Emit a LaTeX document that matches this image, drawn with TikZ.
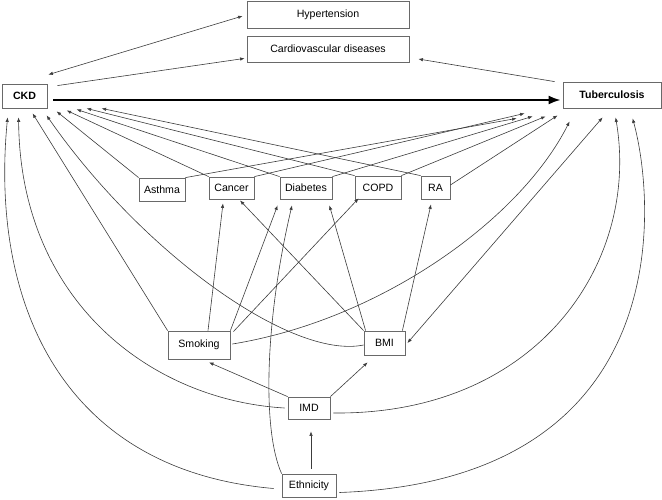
\documentclass[tikz,border=0pt]{standalone}
\usepackage{fontspec}
\setmainfont{Liberation Sans}
\usepackage{tikz}
\usetikzlibrary{arrows.meta,calc}
\definecolor{edgegrey}{RGB}{60,60,60}
\definecolor{boxgrey}{RGB}{105,105,105}
\tikzset{
  base/.style={font=\fontsize{10.6}{12}\selectfont, align=center, inner sep=0pt, text=black},
  box/.style={base, rectangle, draw=boxgrey, fill=white, line width=0.8pt},
  keybox/.style={box, font=\fontsize{10.6}{12}\selectfont\bfseries},
  arr/.style={-{Latex[length=4.5pt,width=3.5pt]}, line width=0.6pt, draw=edgegrey},
  arr2/.style={arr, {Latex[length=4.5pt,width=3.5pt]}-{Latex[length=4.5pt,width=3.5pt]}},
  arrthick/.style={-{Latex[length=12pt,width=9pt]}, line width=2pt, draw=black},
}
\begin{document}
\begin{tikzpicture}[x=1pt,y=-1pt]
  \useasboundingbox (0,0) rectangle (662,499);
  % outcomes and comorbidities
  \node[box,minimum width=162pt,minimum height=27pt] (hyp) at (328,14.5) {Hypertension};
  \node[box,minimum width=162pt,minimum height=26pt] (cvd) at (328,49) {Cardiovascular diseases};
  \node[keybox,minimum width=45pt,minimum height=24pt] (ckd) at (24.5,96) {CKD};
  \node[keybox,minimum width=98pt,minimum height=26pt] (tb) at (612,95) {Tuberculosis};
  \node[box,minimum width=46pt,minimum height=23pt] (asthma) at (162,189.5) {Asthma};
  \node[box,minimum width=45pt,minimum height=22pt] (cancer) at (231.5,188) {Cancer};
  \node[box,minimum width=52pt,minimum height=22pt] (diab) at (306,188) {Diabetes};
  \node[box,minimum width=46pt,minimum height=23pt] (copd) at (378,187.5) {COPD};
  \node[box,minimum width=29pt,minimum height=23pt] (ra) at (435.5,187.5) {RA};
  % risk factors
  \node[box,minimum width=62pt,minimum height=28pt] (smok) at (199,345) {Smoking};
  \node[box,minimum width=41pt,minimum height=24pt] (bmi) at (384.5,343) {BMI};
  \node[box,minimum width=42pt,minimum height=22pt] (imd) at (309,408) {IMD};
  \node[box,minimum width=54pt,minimum height=23pt] (eth) at (309,485.5) {Ethnicity};

  % top links
  \draw[arr2] ($(hyp.west)+(-4,1.5)$) -- ($(ckd.north east)+(1,-9)$);
  \draw[arr] ($(ckd.north east)+(10,2)$) -- ($(cvd.south west)+(-2,-4)$);
  \draw[arr] ($(tb.north west)+(-8,0)$) -- ($(cvd.east)+(9,10)$);
  \draw[arrthick] ($(ckd.east)+(6,4)$) -- ($(tb.west)+(-2,5)$);

  % comorbidities to CKD and TB
  \draw[arr] (asthma.north west) -- ($(ckd.south west)+(55,3)$);
  \draw[arr] (cancer.north west) -- ($(ckd.south west)+(65,2)$);
  \draw[arr] (diab.north west) -- ($(ckd.south west)+(75,1)$);
  \draw[arr] (copd.north west) -- ($(ckd.south west)+(85,0)$);
  \draw[arr] (ra.north west) -- ($(ckd.south west)+(100,0)$);
  \draw[arr] (asthma.north east) -- ($(tb.south west)+(-46,10)$);
  \draw[arr] (cancer.north east) -- ($(tb.south west)+(-38,5)$);
  \draw[arr] (diab.north east) -- ($(tb.south west)+(-30,8)$);
  \draw[arr] (copd.north east) -- ($(tb.south west)+(-17,8)$);
  \draw[arr] ($(ra.east)+(0,-2.5)$) -- ($(tb.south west)+(-5,7)$);

  % smoking
  \draw[arr] (smok.north west) -- ($(ckd.south west)+(31,5)$);
  \draw[arr] ($(smok.north)+(9,0)$) -- ($(cancer.south)+(-8.5,4)$);
  \draw[arr] (smok.north east) -- ($(diab.south west)+(-2,6)$);
  \draw[arr] ($(smok.north east)+(3,1)$) -- ($(copd.south west)+(4,-1)$);
  \draw[arr] ($(smok.east)+(2,-1)$) .. controls (380,320) and (520,220) .. ($(tb.south west)+(7,13)$);

  % BMI
  \draw[arr] (bmi.north west) -- ($(cancer.south)+(8.5,1)$);
  \draw[arr] ($(bmi.north west)+(2,0)$) -- ($(diab.south east)+(-3,6)$);
  \draw[arr] ($(bmi.north east)+(-3,0)$) -- ($(ra.south)+(-4.5,5)$);
  \draw[arr] ($(bmi.west)+(0,2)$) .. controls (290,360) and (140,250) .. ($(ckd.south west)+(45,7)$);
  \draw[arr2] ($(bmi.east)+(2,0)$) -- ($(tb.south west)+(40,9)$);

  % IMD
  \draw[arr] (imd.north west) -- ($(smok.south)+(10,3)$);
  \draw[arr] (imd.north east) -- ($(bmi.south west)+(4,7)$);
  \draw[arr] ($(imd.west)+(-3,0)$) .. controls (150,400) and (20,300) .. ($(ckd.south west)+(17,9)$);
  \draw[arr] ($(imd.east)+(3,5)$) .. controls (540,415) and (640,260) .. ($(tb.south west)+(53,9)$);

  % ethnicity
  \draw[arr] ($(eth.north)+(2,-5)$) -- ($(imd.south)+(2,12)$);
  \draw[arr] (eth.north west) .. controls (262,430) and (265,320) .. ($(diab.south)+(-14,6)$);
  \draw[arr] ($(eth.west)+(-8,3)$) .. controls (60,470) and (-10,300) .. ($(ckd.south west)+(6,9)$);
  \draw[arr] ($(eth.east)+(3,7)$) .. controls (680,480) and (655,200) .. ($(tb.south west)+(70,10)$);
\end{tikzpicture}
\end{document}
